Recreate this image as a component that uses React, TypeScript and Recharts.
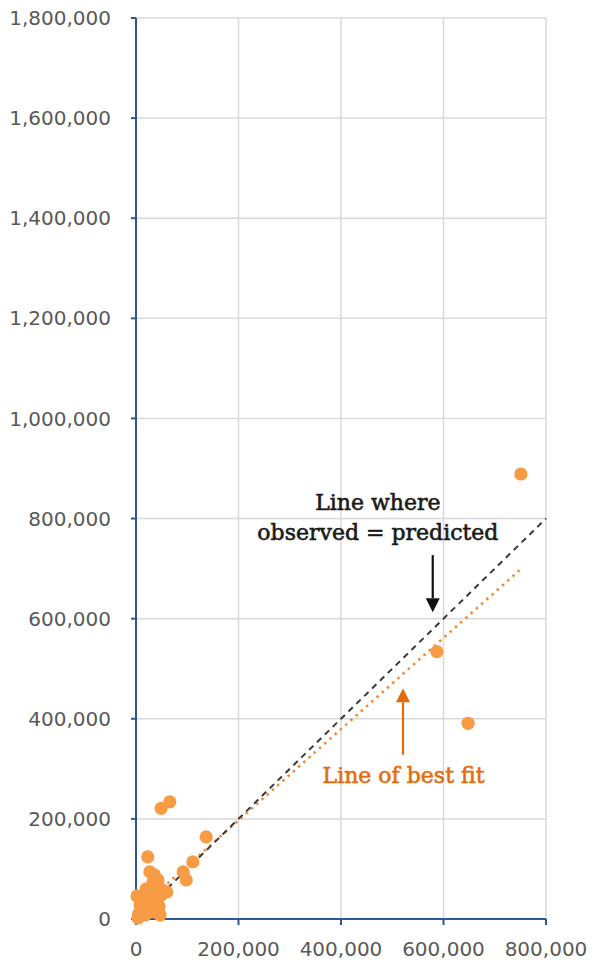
import React from 'react';
import {
  ScatterChart,
  Scatter,
  XAxis,
  YAxis,
  CartesianGrid,
  ReferenceLine,
  ReferenceDot,
} from 'recharts';

// predicted (x) vs observed (y)
const predicted = [
  751000, 587000, 648000, 66000, 49000, 137000, 23000, 111000, 98000, 92000,
  36000, 43000, 27000, 33000, 51000, 60000, 49000, 8000, 18000, 37000, 4000,
  27000, 2000, 47000, 12000, 30000, 20000, 40000, 15000, 10000, 25000, 35000,
  45000, 20000, 30000, 40000, 5000, 14000,
];
const observed = [
  889000, 534000, 391000, 234000, 221000, 164000, 124000, 114000, 78000, 94000,
  88000, 78000, 94000, 74000, 58000, 54000, 48000, 28000, 8000, 14000, 2000,
  38000, 46000, 8000, 18000, 22000, 60000, 30000, 40000, 15000, 25000, 35000,
  25000, 55000, 45000, 60000, 10000, 30000,
];

const equalLineX = [0, 800000];
const equalLineY = [0, 800000];
const fitLineX = [0, 752000];
const fitLineY = [15000, 700000];

const xTicks = [0, 200000, 400000, 600000, 800000];
const yTicks = [0, 200000, 400000, 600000, 800000, 1000000, 1200000, 1400000, 1600000, 1800000];

const data = predicted.map((x, i) => ({ x, y: observed[i] }));

const fmt = (v: number) => v.toLocaleString('en-US');

const Dot = (props: any) => <circle cx={props.cx} cy={props.cy} r={6.6} fill="#F79B45" />;

const Arrow = (props: any) => {
  const { x1, y1, x2, y2, color } = props;
  const dir = y2 > y1 ? 1 : -1;
  const head = 14;
  return (
    <g>
      <line x1={x1} y1={y1} x2={x2} y2={y2 - dir * head} stroke={color} strokeWidth={2.2} />
      <polygon
        points={`${x2},${y2} ${x2 - 7},${y2 - dir * head} ${x2 + 7},${y2 - dir * head}`}
        fill={color}
      />
    </g>
  );
};

const textStyle = { fontFamily: '"DejaVu Serif", serif', fontSize: 22, strokeWidth: 0.6 };

export default function App() {
  return (
    <div>
      <style>{`body{margin:0}`}</style>
      <ScatterChart width={596} height={966} margin={{ top: 18, right: 50, left: 0, bottom: 0 }}>
        <CartesianGrid stroke="#d9d9d9" strokeWidth={1.5} />
        <XAxis
          type="number"
          dataKey="x"
          domain={[0, 800000]}
          ticks={xTicks}
          tickFormatter={fmt}
          height={47}
          axisLine={{ stroke: '#2F5597', strokeWidth: 2 }}
          tickLine={{ stroke: '#2F5597', strokeWidth: 2 }}
          tickSize={6}
          tickMargin={17}
          tick={{ fill: '#595959', fontSize: 20, fontFamily: '"DejaVu Sans", sans-serif' }}
        />
        <YAxis
          type="number"
          dataKey="y"
          domain={[0, 1800000]}
          ticks={yTicks}
          tickFormatter={fmt}
          width={136}
          axisLine={{ stroke: '#2F5597', strokeWidth: 2 }}
          tickLine={{ stroke: '#2F5597', strokeWidth: 2 }}
          tickSize={5}
          tickMargin={20}
          tick={{ fill: '#595959', fontSize: 20, fontFamily: '"DejaVu Sans", sans-serif' }}
        />
        <ReferenceLine
          segment={[
            { x: fitLineX[0], y: fitLineY[0] },
            { x: fitLineX[1], y: fitLineY[1] },
          ]}
          stroke="#F08A35"
          strokeWidth={2.6}
          strokeDasharray="2.5 4.5"
        />
        <ReferenceLine
          segment={[
            { x: equalLineX[0], y: equalLineY[0] },
            { x: equalLineX[1], y: equalLineY[1] },
          ]}
          stroke="#3a3a3a"
          strokeWidth={2}
          strokeDasharray="6 5"
        />
        <Scatter data={data} shape={<Dot />} isAnimationActive={false} />
        <ReferenceLine
          segment={[
            { x: 579000, y: 727000 },
            { x: 579000, y: 613000 },
          ]}
          shape={(p: any) => <Arrow {...p} color="#111111" />}
        />
        <ReferenceLine
          segment={[
            { x: 521000, y: 328000 },
            { x: 521000, y: 461000 },
          ]}
          shape={(p: any) => <Arrow {...p} color="#E46C0A" />}
        />
        <ReferenceDot
          x={472000}
          y={833000}
          r={0}
          fill="none"
          stroke="none"
          label={{ value: 'Line where', position: 'center', fill: '#1a1a1a', stroke: '#1a1a1a', ...textStyle }}
        />
        <ReferenceDot
          x={472000}
          y={773000}
          r={0}
          fill="none"
          stroke="none"
          label={{ value: 'observed = predicted', position: 'center', fill: '#1a1a1a', stroke: '#1a1a1a', ...textStyle }}
        />
        <ReferenceDot
          x={522000}
          y={288000}
          r={0}
          fill="none"
          stroke="none"
          label={{ value: 'Line of best fit', position: 'center', fill: '#E46C0A', stroke: '#E46C0A', ...textStyle }}
        />
      </ScatterChart>
    </div>
  );
}
